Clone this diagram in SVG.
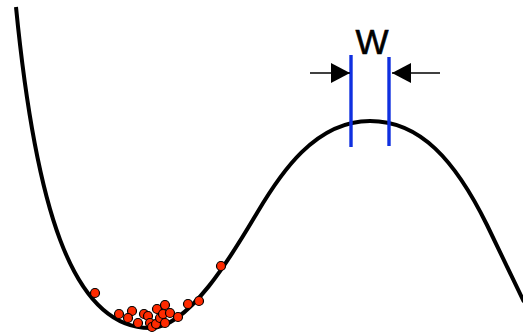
<svg xmlns="http://www.w3.org/2000/svg" width="523" height="334" viewBox="0 0 523 334">
<style>
.curve{fill:none;stroke:#000;stroke-width:4}
.bar{stroke:#1030e0;stroke-width:3.4}
.arr{stroke:#000;stroke-width:1.6}
.dot{fill:#ff2a00;stroke:#000;stroke-width:1.2}
.lbl{font-family:"Liberation Sans",Arial,sans-serif;font-size:35px;fill:#000;stroke:#000;stroke-width:0.6}
</style>
<defs>
<marker id="ah" markerWidth="20" markerHeight="20" refX="19" refY="10" orient="auto" markerUnits="userSpaceOnUse">
<path d="M0,0 L19,10 L0,20 Z" fill="#000"/>
</marker>
</defs>
<g id="landscape">
<path class="curve" d="M16,7 C35,200 70,328 150,328 C190,328 235,250 257,213 C280,174 315,121 370,121 C420,121 455,160 487,225 L524,302"/>
</g>
<g id="width-marker">
<line class="bar" x1="351" y1="55" x2="351" y2="147"/>
<line class="bar" x1="389" y1="57" x2="389" y2="146"/>
<text class="lbl" x="372" y="54" text-anchor="middle">W</text>
</g>
<g id="connectors">
<line class="arr" x1="310" y1="73" x2="350" y2="73" marker-end="url(#ah)"/>
<line class="arr" x1="440" y1="73" x2="392" y2="73" marker-end="url(#ah)"/>
</g>
<g id="particles">
<circle class="dot" cx="95" cy="293" r="4.5"/>
<circle class="dot" cx="119" cy="314" r="4.5"/>
<circle class="dot" cx="132" cy="311" r="4.5"/>
<circle class="dot" cx="128" cy="318" r="4.5"/>
<circle class="dot" cx="138" cy="323" r="4.5"/>
<circle class="dot" cx="144" cy="314" r="4.5"/>
<circle class="dot" cx="148" cy="316" r="4.5"/>
<circle class="dot" cx="150" cy="323" r="4.5"/>
<circle class="dot" cx="152" cy="327" r="4.5"/>
<circle class="dot" cx="156" cy="324" r="4.5"/>
<circle class="dot" cx="160" cy="318" r="4.5"/>
<circle class="dot" cx="157" cy="309" r="4.5"/>
<circle class="dot" cx="163" cy="314" r="4.5"/>
<circle class="dot" cx="165" cy="305" r="4.5"/>
<circle class="dot" cx="165" cy="323" r="4.5"/>
<circle class="dot" cx="170" cy="313" r="4.5"/>
<circle class="dot" cx="178" cy="317" r="4.5"/>
<circle class="dot" cx="188" cy="304" r="4.5"/>
<circle class="dot" cx="199" cy="301" r="4.5"/>
<circle class="dot" cx="221" cy="266" r="4.5"/>
</g>
</svg>
